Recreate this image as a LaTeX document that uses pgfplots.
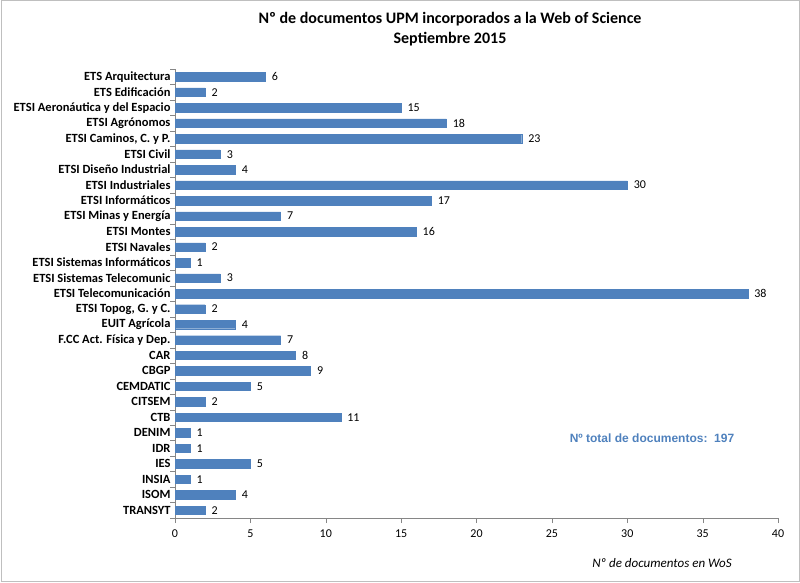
\documentclass[border=0pt]{standalone}
\usepackage{pgfplots}
\pgfplotsset{compat=1.18}
\usepackage{fontspec}
\setmainfont{Carlito}
\newfontfamily\arialfont{Liberation Sans}
\definecolor{barblue}{HTML}{4F81BD}
\definecolor{axgray}{HTML}{868686}
\begin{document}
\begin{tikzpicture}[x=1pt,y=1pt]
\useasboundingbox (0,0) rectangle (800,582);
\draw[black!25, line width=1pt] (1,1) rectangle (799,581);
% titles
\node[font=\fontsize{16}{19}\selectfont\bfseries] at (450,563) {Nº de documentos UPM incorporados a la Web of Science};
\node[font=\fontsize{16}{19}\selectfont\bfseries] at (450,543) {Septiembre 2015};
\begin{axis}[
  at={(175pt,64pt)}, anchor=south west,
  scale only axis, width=603pt, height=449pt,
  xbar, bar width=8.5pt,
  xmin=0, xmax=40, xtick={0,5,...,40},
  ymin=-0.5, ymax=28.5, y dir=reverse,
  ytick={0,...,28},
  yticklabels={
    {ETS Arquitectura},
    {ETS Edificación},
    {ETSI Aeronáutica y del Espacio},
    {ETSI Agrónomos},
    {ETSI Caminos, C. y P.},
    {ETSI Civil},
    {ETSI Diseño Industrial},
    {ETSI Industriales},
    {ETSI Informáticos},
    {ETSI Minas y Energía},
    {ETSI Montes},
    {ETSI Navales},
    {ETSI Sistemas Informáticos},
    {ETSI Sistemas Telecomunic},
    {ETSI Telecomunicación},
    {ETSI Topog, G. y C.},
    {EUIT Agrícola},
    {F.CC Act. Física y Dep.},
    {CAR},
    {CBGP},
    {CEMDATIC},
    {CITSEM},
    {CTB},
    {DENIM},
    {IDR},
    {IES},
    {INSIA},
    {ISOM},
    {TRANSYT}},
  major y tick style={draw=none},
  minor ytick={-0.5,0.5,...,28.5},
  minor y tick style={axgray},
  minor tick length=5pt,
  major tick length=5pt,
  tick align=outside,
  x tick style={axgray},
  axis x line*=bottom, axis y line*=left,
  axis line style={axgray, -},
  yticklabel style={font=\fontsize{12.5}{14}\selectfont\bfseries, xshift=4pt},
  xticklabel style={font=\fontsize{12}{14}\selectfont, yshift=-3pt},
  /pgf/number format/assume math mode=true,
  nodes near coords,
  nodes near coords style={font=\fontsize{12}{14}\selectfont, anchor=west, xshift=3pt},
  clip=false,
]
\addplot[fill=barblue, draw=barblue] coordinates {
  (6,0) (2,1) (15,2) (18,3) (23,4) (3,5) (4,6) (30,7) (17,8) (7,9)
  (16,10) (2,11) (1,12) (3,13) (38,14) (2,15) (4,16) (7,17) (8,18) (9,19)
  (5,20) (2,21) (11,22) (1,23) (1,24) (5,25) (1,26) (4,27) (2,28)
};
\end{axis}
\node[font=\fontsize{13}{15}\selectfont\itshape] at (662,19) {Nº de documentos en WoS};
\node[font=\arialfont\fontsize{12}{14}\selectfont\bfseries, text=barblue] at (652,144) {Nº total de documentos:\ \ 197};
\end{tikzpicture}
\end{document}
